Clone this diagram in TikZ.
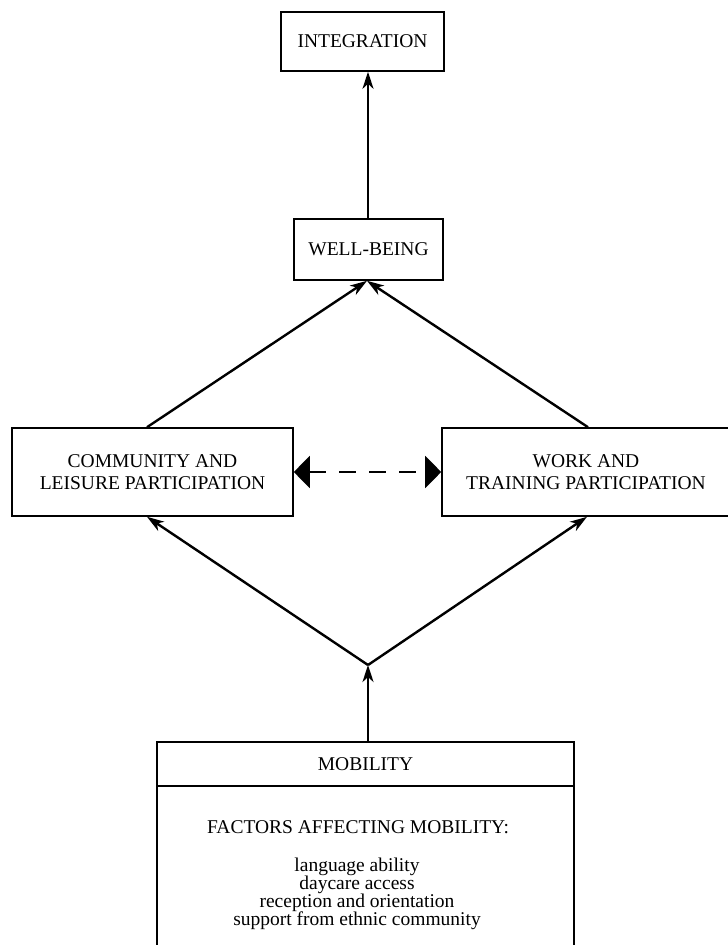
\documentclass[tikz,border=0pt]{standalone}
\usepackage{fontspec}
\setmainfont{Liberation Serif}
\usetikzlibrary{arrows.meta,calc}
\begin{document}
\begin{tikzpicture}[x=1pt,y=-1pt,
  box/.style={draw, line width=1.6pt, rectangle, inner sep=0pt, anchor=center, align=center,
    font=\fontsize{19.5}{21.5}\selectfont},
  txt/.style={inner sep=0pt, anchor=center, align=center},
  conn/.style={line width=2.4pt, -{Stealth[length=17pt,width=11pt,inset=5pt]}},
  link/.style={line width=2.4pt}]
\useasboundingbox (0,0) rectangle (728,945);
\clip (0,0) rectangle (728,945);
\fill[white] (0,0) rectangle (728,945);
\node[box, minimum width=163pt, minimum height=59pt] (integ) at (362.5,41.5) {INTEGRATION};
\node[box, minimum width=149pt, minimum height=61pt] (well) at (368.5,249.5) {WELL-BEING};
\node[box, minimum width=281pt, minimum height=88pt] (comm) at (152.5,472) {COMMUNITY AND\\LEISURE PARTICIPATION};
\node[box, minimum width=288pt, minimum height=88pt] (work) at (586,472) {WORK AND\\TRAINING PARTICIPATION};
\node[box, minimum width=417pt, minimum height=44pt] (mobh) at (365.5,764) {MOBILITY};
\node[box, minimum width=417pt, minimum height=180pt] (mobb) at (365.5,876) {};
\node[txt, font=\fontsize{19.5}{21}\selectfont] (factors) at (358,827) {FACTORS AFFECTING MOBILITY:};
\node[txt, font=\fontsize{19.5}{18}\selectfont] (list) at (357,893.5) {language ability\\daycare access\\reception and orientation\\support from ethnic community};
\coordinate (junc) at (368,665);
% connectors
\draw[conn] (well.north -| 368,0) -- (integ.south -| 368,0);
\draw[conn] ([xshift=-5.5pt]comm.north) -- ([xshift=-1.5pt]well.south);
\draw[conn] ([xshift=2pt]work.north) -- ([xshift=-1.5pt]well.south);
\draw[conn] (mobh.north -| junc) -- (junc);
\draw[conn] (junc) -- ([xshift=-5.5pt]comm.south);
\draw[conn] (junc) -- ([xshift=1pt]work.south);
\draw[line width=2.2pt, dash pattern=on 17pt off 13pt, {Triangle[length=16pt,width=32pt]}-{Triangle[length=16pt,width=32pt]}] (comm.east) -- (work.west);
\end{tikzpicture}
\end{document}
